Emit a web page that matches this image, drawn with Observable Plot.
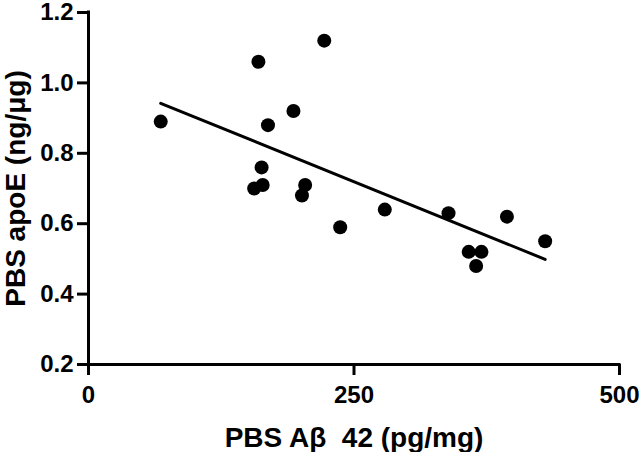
<!DOCTYPE html>
<html>
<head>
<meta charset="utf-8">
<script src="https://cdn.jsdelivr.net/npm/d3@7"></script>
<script src="https://cdn.jsdelivr.net/npm/@observablehq/plot@0.6"></script>
<style>
  html, body { margin: 0; padding: 0; background: #fff; }
  svg { overflow: visible; }
</style>
</head>
<body>
<div id="chart"></div>
<script>
const abeta = [68, 160, 222, 193, 169, 163, 156, 164, 204, 201, 237, 279, 339, 394, 430, 358, 370, 365];
const apoE  = [0.89, 1.06, 1.12, 0.92, 0.88, 0.76, 0.70, 0.71, 0.71, 0.68, 0.59, 0.64, 0.63, 0.62, 0.55, 0.52, 0.52, 0.48];
const xTicks = [0, 250, 500];
const yTicks = [0.2, 0.4, 0.6, 0.8, 1.0, 1.2];
const xLabel = "PBS A\u03B2  42 (pg/mg)";
const yLabel = "PBS apoE (ng/\u03BCg)";

const data = abeta.map((x, i) => ({x, y: apoE[i]}));

const chart = Plot.plot({
  width: 640,
  height: 452,
  marginLeft: 88,
  marginRight: 21,
  marginTop: 12,
  marginBottom: 88,
  style: {fontFamily: "'Liberation Sans', Arial, sans-serif", fontWeight: "bold", fontSize: "24px", color: "#000", background: "#fff", overflow: "visible"},
  x: {domain: [0, 500]},
  y: {domain: [0.2, 1.2]},
  marks: [
    Plot.axisX({ticks: xTicks, tickSize: 11, tickPadding: 10, strokeWidth: 3, label: null, tickFormat: d3.format("d")}),
    Plot.axisY({ticks: yTicks, tickSize: 11, tickPadding: 4, strokeWidth: 3, label: null, tickFormat: d3.format(".1f")}),
    Plot.ruleX([0], {strokeWidth: 3, strokeLinecap: "square"}),
    Plot.ruleY([0.2], {strokeWidth: 3, strokeLinecap: "square"}),
    Plot.linearRegressionY(data, {x: "x", y: "y", ci: 0, stroke: "#000", strokeWidth: 3}),
    Plot.dot(data, {x: "x", y: "y", r: 7, fill: "#000"}),
    Plot.text([xLabel], {frameAnchor: "bottom", dy: 74, textAnchor: "middle", lineAnchor: "middle", fontSize: 28, fontWeight: "bold", fill: "#000"}),
    Plot.text([yLabel], {frameAnchor: "left", dx: -72, rotate: -90, textAnchor: "middle", lineAnchor: "middle", fontSize: 28, fontWeight: "bold", fill: "#000"})
  ]
});
document.getElementById("chart").appendChild(chart);
</script>
</body>
</html>
